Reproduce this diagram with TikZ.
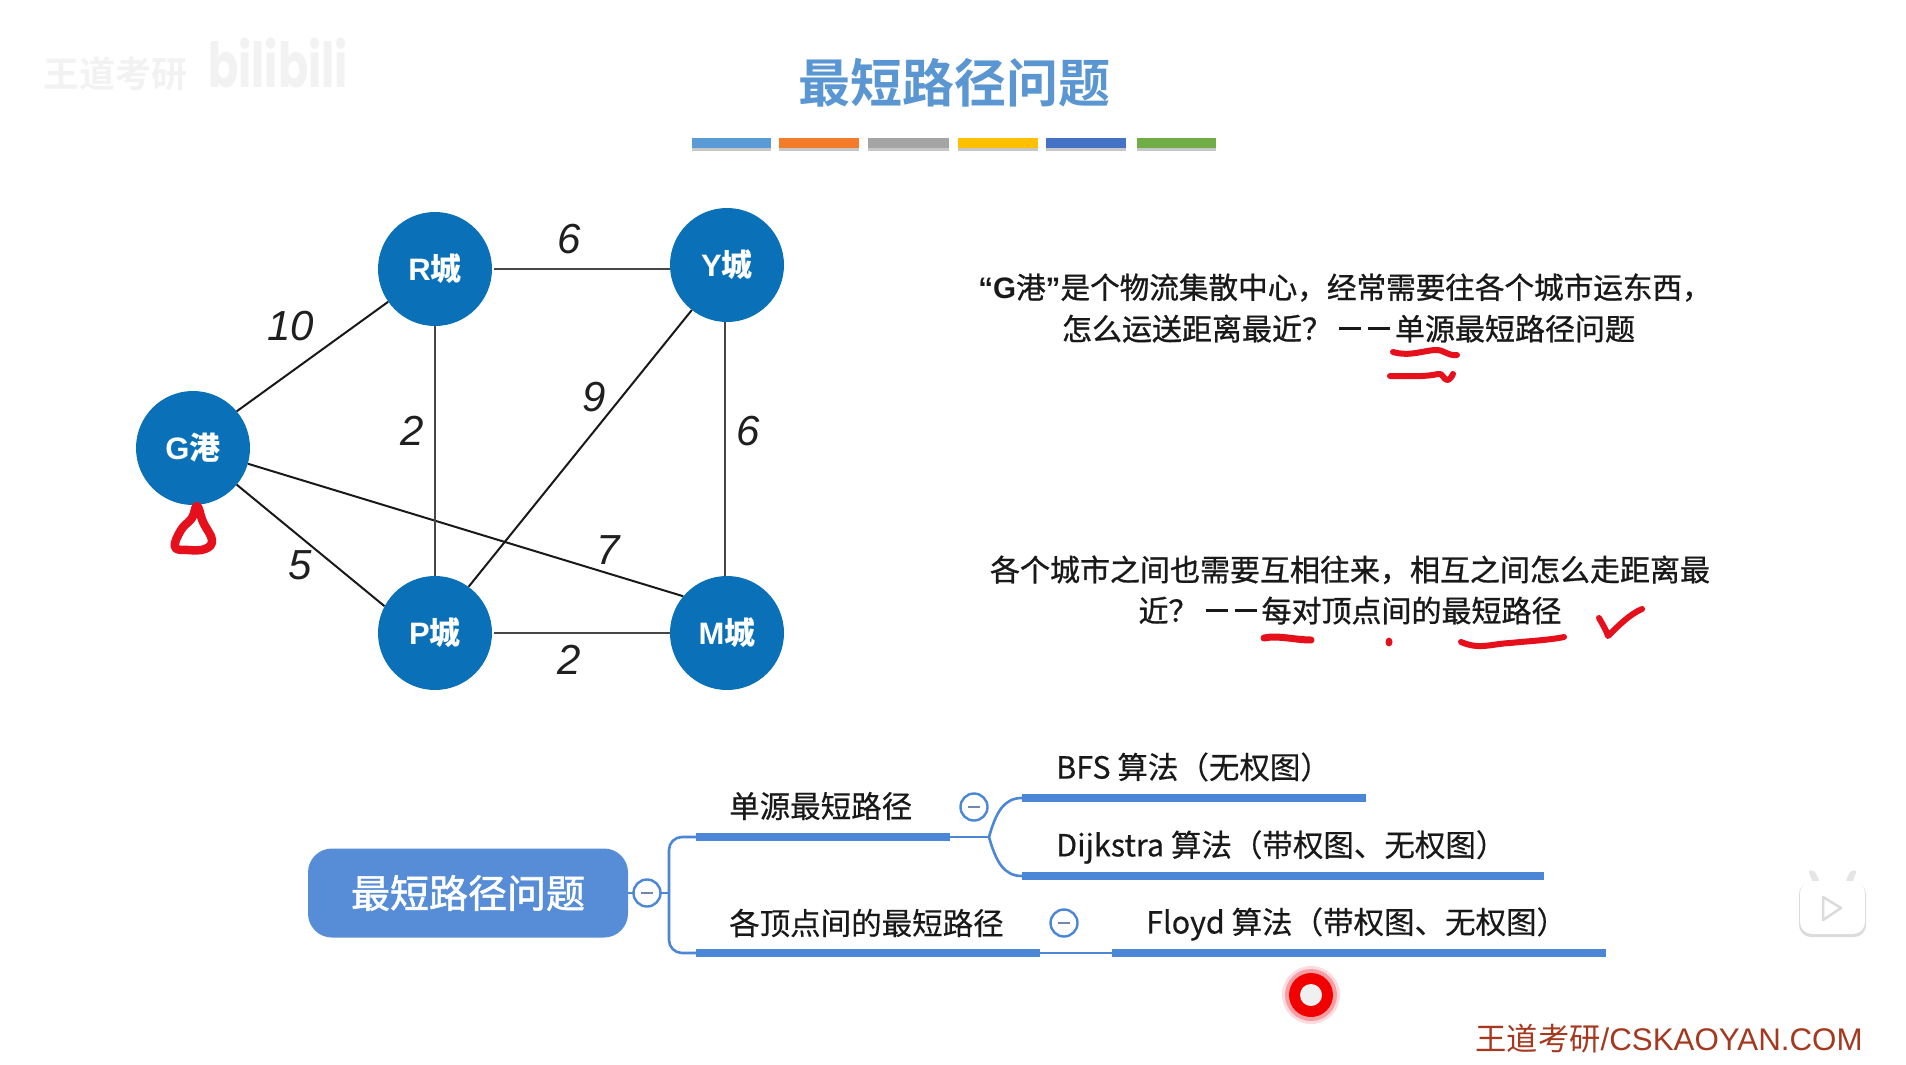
\documentclass[tikz,border=0pt]{standalone}
\usepackage{graphicx}
\usepackage{fontspec}
\setmainfont{Liberation Sans}
\newfontfamily\cjk[FakeBold=0.4]{Noto Sans CJK SC}
\newfontfamily\cjkm[FakeBold=0.9]{Noto Sans CJK SC}
\newfontfamily\cjkr[FakeBold=1.4]{Noto Sans CJK SC}
\newfontfamily\cjkb{Noto Sans CJK SC Bold}
\newfontfamily\cjkp{Noto Sans CJK SC}
\newfontfamily\pop{Poppins}
\usetikzlibrary{calc}
\definecolor{citybl}{HTML}{0A71B9}
\definecolor{titlebl}{HTML}{5A96D2}
\definecolor{mapbl}{HTML}{4C86D6}
\definecolor{rootbl}{HTML}{568DD6}
\definecolor{pen}{HTML}{E5101C}
\definecolor{wm}{HTML}{A5391F}
\newcommand{\fs}[1]{\fontsize{#1}{#1}\selectfont}
\newcommand{\dd}{\hspace{7pt}\rule[0.33em]{22pt}{2.8pt}\hspace{7pt}\rule[0.33em]{22pt}{2.8pt}\hspace{5pt}}
\tikzset{
  city/.style={circle,fill=citybl,text=white,inner sep=0pt,minimum size=114pt,font=\fs{31}\bfseries},
  edgeg/.style={draw=black!72,line width=2pt},
  edgek/.style={draw=black!90,line width=2pt},
  weight/.style={inner sep=0pt,font=\fs{42}\itshape,text=black!88},
  penline/.style={draw=pen,line width=6pt,line cap=round,line join=round},
  thin/.style={draw=mapbl,line width=2.6pt},
  bar/.style={draw=mapbl,line width=8pt},
  maptxt/.style={anchor=west,inner sep=0pt,font=\fs{30.5}\cjk,text=black!90},
  fold/.style={circle,draw=mapbl,fill=white,line width=2.4pt,minimum size=27pt,inner sep=0pt},
  para/.style={align=center,inner sep=0pt,text=black!90},
}
\begin{document}
\begin{tikzpicture}[x=1pt,y=-1pt]
\useasboundingbox (0,0) rectangle (1906,1065);
\fill[white] (0,0) rectangle (1906,1065);

% faint watermark
\node (wmA) at (115,74) [inner sep=0pt,text=black!5,font=\fs{36}\cjkb] {王道考研};
\node (wmB) at (278,63) [inner sep=0pt,text=black!5,font=\fs{62}\pop\bfseries] {\scalebox{.72}[1]{bilibili}};

% title
\node (title) at (954,83) [inner sep=0pt,text=titlebl,font=\fs{52}\cjkb] {最短路径问题};

% colour strip
\foreach \nm/\xa/\xb/\col in {s1/692/771/5B9BD5,s2/779/859/F47B2A,s3/868/949/A5A5A5,s4/958/1038/FFC000,s5/1046/1126/4472C4,s6/1137/1216/70AD47}{
  \fill[black!22] (\xa,146) rectangle (\xb,151);
  \definecolor{stripc}{HTML}{\col}
  \fill[stripc] (\xa,138) rectangle (\xb,147.5);
}

% graph
\node[city] (G) at (193,448) {G{\cjkb 港}};
\node[city] (R) at (435,269) {R{\cjkb 城}};
\node[city] (Y) at (727,265) {Y{\cjkb 城}};
\node[city] (P) at (435,633) {P{\cjkb 城}};
\node[city] (M) at (727,633) {M{\cjkb 城}};

\draw[edgek] (G.40) -- (R.215);
\draw[edgek] (G.-40) -- (P.152);
\draw[edgek] (G.-16) -- (M.140);
\draw[edgek] (P.54) -- (Y.232);
\draw[edgeg] ($(R.east)+(2,0)$) -- ($(Y.west)+(0,4)$);
\draw[edgeg] ($(P.east)+(2,0)$) -- (M.west);
\draw[edgeg] (R.south) -- (P.north);
\draw[edgeg] ($(Y.south)+(-2,0)$) -- ($(M.north)+(-2,0)$);

\node[weight] (w1) at (569,239) {6};
\node[weight] (w2) at (291,326) {10};
\node[weight] (w3) at (412,431) {2};
\node[weight] (w4) at (594,397) {9};
\node[weight] (w5) at (748,431) {6};
\node[weight] (w6) at (300,565) {5};
\node[weight] (w7) at (608,550) {7};
\node[weight] (w8) at (569,660) {2};

% pen marks
\draw[penline,line width=8.5pt] plot[smooth cycle,tension=.7] coordinates {(197,506) (203,522) (212,540) (205,549) (188,550) (175,547) (181,530) (192,518)};
\draw[penline,line width=6pt] (1393,352) .. controls (1410,357) and (1425,350) .. (1436,350) .. controls (1445,350) and (1447,356) .. (1457,355);
\draw[penline,line width=6pt] (1390,376) .. controls (1410,376) and (1425,377) .. (1438,374) .. controls (1442,372) and (1444,380) .. (1447,380) .. controls (1450,380) and (1452,376) .. (1453,374);
\draw[penline,line width=7pt] (1264,638) .. controls (1278,635) and (1295,640) .. (1311,640);
\fill[pen] (1389,642) ellipse (3.5pt and 4.5pt);
\draw[penline,line width=6pt] (1461,642) .. controls (1480,650) and (1490,644) .. (1510,643) .. controls (1530,641) and (1550,640) .. (1564,637);
\draw[penline,line width=6pt] (1599,618) .. controls (1603,625) and (1607,632) .. (1608,636) .. controls (1618,626) and (1630,614) .. (1642,609);

% paragraphs
\node[para] (p1) at (1345,308) {\fs{29.6}{\bfseries “G}{\cjkm 港}{\bfseries ”}{\cjkm 是个物流集散中心，经常需要往各个城市运东西，}\\[12pt]\hspace*{7pt}\fs{30}{\cjkm 怎么运送距离最近？}\dd{\cjkm 单源最短路径问题}};
\node[para,font=\fs{30}] (p2) at (1350,590) {{\cjkm 各个城市之间也需要互相往来，相互之间怎么走距离最}\\[11pt]{\cjkm 近？}\dd{\cjkm 每对顶点间的最短路径}};

% mind map
\node[rounded corners=24pt,fill=rootbl,minimum width=320pt,minimum height=89pt,inner sep=0pt,text=white,font=\fs{39}\cjkr] (root) at (468,893) {最短路径问题};
\coordinate (jn) at (669,893);
\coordinate (aL) at (696,837);
\coordinate (aR) at (950,837);
\coordinate (bL) at (696,953);
\coordinate (bR) at (1040,953);
\coordinate (br) at (989,837);
\coordinate (cL) at (1022,798);
\coordinate (cR) at (1366,798);
\coordinate (dL) at (1022,876);
\coordinate (dR) at (1544,876);
\coordinate (eL) at (1112,953);
\coordinate (eR) at (1606,953);
\draw[thin] (root.east) -- (jn);
\draw[thin,rounded corners=13pt] (aL) -- (669,837) -- (669,953) -- (bL);
\draw[thin] (aR) -- (br);
\draw[thin] (br) .. controls (996,812) and (1004,798) .. (cL);
\draw[thin] (br) .. controls (996,862) and (1004,876) .. (dL);
\draw[thin] (bR) -- (eL);
\draw[bar] (aL) -- (aR);
\draw[bar] (bL) -- (bR);
\draw[bar] (cL) -- (cR);
\draw[bar] (dL) -- (dR);
\draw[bar] (eL) -- (eR);
\foreach \nm/\px/\py in {f1/647/893,f2/974/807,f3/1064/923}{
  \node[fold] (\nm) at (\px,\py) {};
  \draw[draw=black!35!mapbl!70,line width=2pt] ($(\nm.center)+(-6,0)$) -- ($(\nm.center)+(6,0)$);
}
\node[maptxt] (t1) at (729,806) {单源最短路径};
\node[maptxt] (t2) at (729,923) {各顶点间的最短路径};
\node[maptxt] (t3) at (1056,767) {BFS 算法（无权图）};
\node[maptxt] (t4) at (1056,847) {Dijkstra 算法（带权图、无权图）};
\node[maptxt] (t5) at (1146,924) {Floyd 算法（带权图、无权图）};

% laser pointer
\fill[pen!15] (1311,995) circle (29pt);
\fill[pen!40] (1311,995) circle (26pt);
\fill[red!95!black] (1311,995) circle (22pt);
\fill[black!6] (1311,995) circle (11pt);
\node (laser) at (1311,995) [inner sep=0pt] {};

% player icon
\fill[black!10,rounded corners=3pt] (1813,883) -- (1808,870) -- (1815,871) -- (1820,883) -- cycle;
\fill[black!10,rounded corners=3pt] (1852,883) -- (1857,870) -- (1850,871) -- (1845,883) -- cycle;
\fill[black!14,rounded corners=12pt] (1799,882) rectangle (1866,937);
\fill[white,rounded corners=12pt] (1800,881) rectangle (1865,934);
\draw[black!14,line width=2.5pt,line join=round] (1823,897) -- (1841,908) -- (1823,920) -- cycle;

% credit
\node (credit) at (1669,1039) [inner sep=0pt,text=wm,font=\fs{31.3}] {{\cjkp 王道考研}/CSKAOYAN.COM};
\end{tikzpicture}
\end{document}
